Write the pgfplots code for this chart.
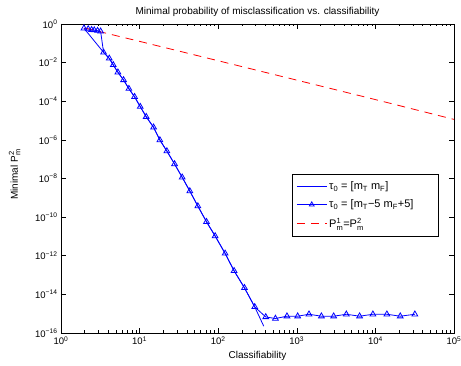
\documentclass[border=0pt]{standalone}
\usepackage{pgfplots}
\pgfplotsset{compat=1.18}
\usepackage{fontspec}
\setmainfont{Liberation Sans}
\newcommand{\supsub}[2]{$^{\mbox{\fontsize{7.5}{8}\selectfont #1}}_{\mbox{\fontsize{7.5}{8}\selectfont #2}}$}
\newcommand{\subs}[1]{$_{\mbox{\fontsize{7.5}{8}\selectfont #1}}$}
\newcommand{\tp}[1]{10\textsuperscript{#1}}
\begin{document}
\begin{tikzpicture}
\begin{axis}[
  name=ax,
  xmode=log, ymode=log,
  width=393pt, height=309pt, scale only axis,
  xmin=1, xmax=1e5, ymin=1e-16, ymax=1,
  xtick={1,10,100,1000,10000,100000},
  xticklabels={\tp{0},\tp{1},\tp{2},\tp{3},\tp{4},\tp{5}},
  ytick={1e-16,1e-14,1e-12,1e-10,1e-8,1e-6,1e-4,1e-2,1},
  yticklabels={\tp{−16},\tp{−14},\tp{−12},\tp{−10},\tp{−8},\tp{−6},\tp{−4},\tp{−2},\tp{0}},
  yminorticks=false,
  major tick length=5pt, minor tick length=2.5pt,
  tick style={black, line width=0.6pt},
  axis line style={line width=0.8pt},
  tick label style={font=\fontsize{9.5}{11}\selectfont},
  label style={font=\fontsize{10}{11}\selectfont},
  title style={font=\fontsize{10}{11}\selectfont, yshift=-2pt},
  title={Minimal probability of misclassification vs. classifiability},
  xlabel={Classifiability},
  ylabel={Minimal P\supsub{2}{m}},
  xlabel style={yshift=1pt},
  ylabel style={yshift=8pt, xshift=4pt},
  legend style={at={(0.962,0.515)}, anchor=north east, draw=black, line width=1.2pt,
    font=\fontsize{11}{12}\selectfont, row sep=5pt, inner xsep=4pt, inner ysep=5pt,
    nodes={inner sep=2pt}},
  legend cell align=left,
  legend image code/.code={\draw[mark repeat=2,mark phase=2,mark size=2.8pt,#1] plot coordinates {(0pt,0pt) (15pt,0pt) (30pt,0pt)};},
]
\addplot[blue, line width=0.8pt, mark=none] coordinates {
(1.96,0.60) (3.483,3.39e-2) (4.111,1.66e-2) (4.624,7.59e-3) (5.297,3.16e-3) (6.252,1.26e-3)
(7.311,4.47e-4) (8.630,1.70e-4) (10.19,5.25e-5) (12.13,1.58e-5) (15.07,4.47e-6)
(18.11,9.77e-7) (22.23,2.63e-7) (27.86,5.62e-8) (34.83,1.15e-8) (43.55,2.24e-9)
(55.08,3.72e-10) (70.96,5.75e-11) (91.41,1.05e-11) (122.5,1.32e-12) (159.2,1.66e-13)
(215.8,2.19e-14) (291.7,2.24e-15) (380,2.24e-16)
};
\addlegendentry{τ\subs{0} = [m\subs{T} m\subs{F}]}
\addplot[blue, line width=0.8pt, mark=triangle, mark size=3.3pt, mark options={solid}] coordinates {
(1.96,0.60) (2.22,0.55) (2.45,0.50) (2.65,0.48) (2.92,0.45) (3.19,0.42)
(3.483,3.39e-2) (4.111,1.66e-2) (4.624,7.59e-3) (5.297,3.16e-3) (6.252,1.26e-3)
(7.311,4.47e-4) (8.630,1.70e-4) (10.19,5.25e-5) (12.13,1.58e-5) (15.07,4.47e-6)
(18.11,9.77e-7) (22.23,2.63e-7) (27.86,5.62e-8) (34.83,1.15e-8) (43.55,2.24e-9)
(55.08,3.72e-10) (70.96,5.75e-11) (91.41,1.05e-11) (122.5,1.32e-12) (159.2,1.66e-13)
(215.8,2.19e-14) (291.7,2.24e-15) (402.7,6.76e-16) (534.6,5.62e-16) (750,7.41e-16)
(1026,7.41e-16) (1429,9.33e-16) (2056,7.41e-16) (2944,7.41e-16) (4266,9.33e-16)
(6295,7.41e-16) (9290,9.33e-16) (13996,9.33e-16) (20701,7.41e-16) (31769,9.33e-16)
};
\addlegendentry{τ\subs{0} = [m\subs{T}−5 m\subs{F}+5]\hspace*{19pt}}
\addplot[red, line width=0.8pt, dash pattern=on 8pt off 6pt] coordinates {
(2.0,0.62) (10,0.126) (100,0.0125) (1000,1.24e-3) (10000,1.22e-4) (100000,1.15e-5)
};
\addlegendentry{P\supsub{1}{m}=P\supsub{2}{m}}
\end{axis}
\pgfresetboundingbox
\path[use as bounding box] ([shift={(-61pt,-33pt)}]ax.south west) rectangle ([shift={(7pt,24pt)}]ax.north east);
\end{tikzpicture}
\end{document}
